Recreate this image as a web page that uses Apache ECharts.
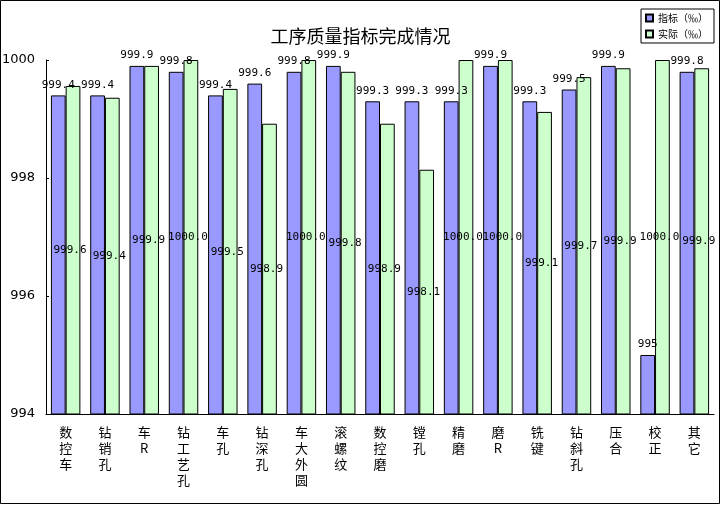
<!DOCTYPE html>
<html>
<head>
<meta charset="utf-8">
<title>工序质量指标完成情况</title>
<script src="https://cdn.jsdelivr.net/npm/echarts@6/dist/echarts.min.js"></script>
<style>
  html, body { margin: 0; padding: 0; background: #fff; }
  #main { width: 721px; height: 505px; }
</style>
</head>
<body>
<div id="main"></div>
<script>
var categories = ['数控车', '钻销孔', '车R', '钻工艺孔', '车孔', '钻深孔', '车大外圆', '滚螺纹', '数控磨',
    '镗孔', '精磨', '磨R', '铣键', '钻斜孔', '压合', '校正', '其它'];
var targetValues = [999.4, 999.4, 999.9, 999.8, 999.4, 999.6, 999.8, 999.9, 999.3,
    999.3, 999.3, 999.9, 999.3, 999.5, 999.9, 995, 999.8];
var actualValues = [999.56, 999.36, 999.9, 1000.0, 999.51, 998.92, 1000.0, 999.8, 998.92,
    998.14, 1000.0, 1000.0, 999.12, 999.71, 999.86, 1000.0, 999.86];
var yTicks = [994, 996, 998, 1000];

// 竖排文字：每个字一行
function verticalText(s) {
    return s.split('').join('\n');
}

var myChart = echarts.init(document.getElementById('main'));

var labelFont = {
    fontFamily: 'DejaVu Sans Mono',
    fontSize: 11,
    color: '#000'
};

var option = {
    backgroundColor: '#fff',
    animation: false,
    title: {
        text: '工序质量指标完成情况',
        left: 'center',
        top: 22,
        textStyle: {
            fontFamily: 'Noto Sans CJK SC',
            fontSize: 18,
            fontWeight: 'normal',
            color: '#000'
        }
    },
    legend: {
        orient: 'vertical',
        right: 7,
        top: 9,
        itemWidth: 7,
        itemHeight: 7,
        itemGap: 6,
        padding: [4, 6, 4, 4],
        borderColor: '#000',
        borderWidth: 1,
        icon: 'rect',
        textStyle: {
            fontFamily: 'Noto Sans CJK SC',
            fontSize: 10,
            color: '#000'
        },
        data: ['指标（‰）', '实际（‰）']
    },
    graphic: [{
        type: 'rect',
        shape: { x: 0.5, y: 0.5, width: 719, height: 503 },
        style: { fill: 'none', stroke: '#000', lineWidth: 1 },
        silent: true
    }],
    grid: {
        left: 46,
        right: 7,
        top: 60,
        bottom: 91,
        outerBoundsMode: 'none'
    },
    xAxis: {
        type: 'category',
        data: categories,
        axisLine: { lineStyle: { color: '#000', width: 1 } },
        axisTick: { inside: true, length: 3, lineStyle: { color: '#000' } },
        axisLabel: {
            interval: 0,
            margin: 10,
            lineHeight: 16,
            fontFamily: 'Noto Sans CJK SC',
            fontSize: 13,
            color: '#000',
            formatter: function (v) { return verticalText(v); }
        }
    },
    yAxis: {
        type: 'value',
        min: yTicks[0],
        max: yTicks[yTicks.length - 1],
        interval: 2,
        splitLine: { show: false },
        axisLine: { show: true, lineStyle: { color: '#000', width: 1 } },
        axisTick: { show: true, inside: true, length: 3, lineStyle: { color: '#000' } },
        axisLabel: {
            margin: 11,
            fontFamily: 'DejaVu Sans',
            fontSize: 13,
            color: '#000',
            formatter: function (v) { return String(v); }
        }
    },
    series: [
        {
            name: '指标（‰）',
            type: 'bar',
            data: targetValues,
            barGap: '0%',
            barCategoryGap: '25%',
            itemStyle: { color: '#9999FF', borderColor: '#000', borderWidth: 1 },
            label: {
                show: true,
                position: 'top',
                distance: 5,
                fontFamily: labelFont.fontFamily,
                fontSize: labelFont.fontSize,
                color: labelFont.color,
                formatter: function (p) { return String(p.value); }
            }
        },
        {
            name: '实际（‰）',
            type: 'bar',
            data: actualValues,
            itemStyle: { color: '#CCFFCC', borderColor: '#000', borderWidth: 1 },
            label: {
                show: true,
                position: 'inside',
                offset: [-3, 0],
                fontFamily: labelFont.fontFamily,
                fontSize: labelFont.fontSize,
                color: labelFont.color,
                formatter: function (p) { return p.value.toFixed(1); }
            }
        }
    ]
};

myChart.setOption(option);
window.addEventListener('resize', function () {
    myChart.resize();
});
</script>
</body>
</html>
